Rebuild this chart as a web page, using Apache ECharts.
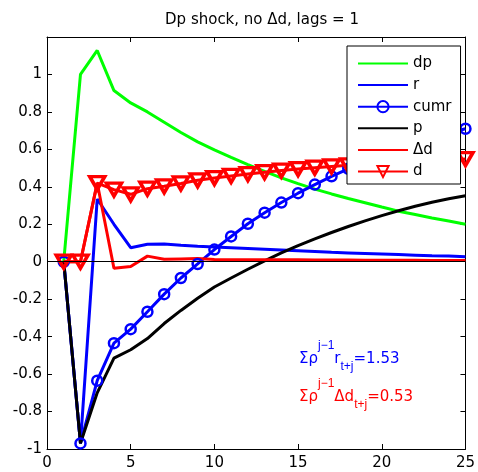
<!DOCTYPE html>
<html>
<head>
<meta charset="utf-8">
<script src="https://cdn.jsdelivr.net/npm/echarts@6/dist/echarts.min.js"></script>
<style>
  html, body { margin: 0; padding: 0; background: #fff; }
  #chart { width: 478px; height: 472px; }
</style>
</head>
<body>
<div id="chart"></div>
<script>
// horizon j = 1..25
var steps = [1, 2, 3, 4, 5, 6, 7, 8, 9, 10, 11, 12, 13, 14, 15, 16, 17, 18, 19, 20, 21, 22, 23, 24, 25];
var dp = [0, 1.0, 1.128, 0.914, 0.848, 0.80, 0.745, 0.69, 0.64, 0.597, 0.557, 0.518, 0.482, 0.448, 0.417, 0.388, 0.362, 0.338, 0.315, 0.292, 0.27, 0.252, 0.234, 0.217, 0.20];
var r = [0, -0.97, 0.335, 0.2, 0.075, 0.093, 0.095, 0.088, 0.082, 0.078, 0.074, 0.07, 0.066, 0.062, 0.058, 0.054, 0.05, 0.047, 0.044, 0.041, 0.038, 0.035, 0.032, 0.03, 0.027];
var cumr = [0, -0.97, -0.635, -0.435, -0.36, -0.267, -0.173, -0.087, -0.012, 0.065, 0.135, 0.203, 0.262, 0.316, 0.366, 0.412, 0.456, 0.496, 0.534, 0.569, 0.601, 0.631, 0.66, 0.686, 0.71];
var p = [0, -0.97, -0.70, -0.515, -0.47, -0.41, -0.33, -0.26, -0.195, -0.135, -0.087, -0.04, 0.005, 0.047, 0.086, 0.122, 0.156, 0.188, 0.218, 0.246, 0.272, 0.296, 0.318, 0.336, 0.352];
var dd = [0, 0, 0.42, -0.035, -0.025, 0.03, 0.013, 0.015, 0.017, 0.012, 0.011, 0.011, 0.01, 0.01, 0.01, 0.009, 0.009, 0.009, 0.008, 0.008, 0.008, 0.008, 0.007, 0.007, 0.007];
var d = [0, 0, 0.42, 0.385, 0.36, 0.39, 0.403, 0.418, 0.435, 0.447, 0.458, 0.468, 0.478, 0.487, 0.495, 0.502, 0.509, 0.515, 0.521, 0.526, 0.531, 0.536, 0.540, 0.544, 0.548];

var xTicks = { min: 0, max: 25, interval: 5 };
var yTicks = { min: -1, max: 1.2, interval: 0.2 };

var font = "'DejaVu Sans', sans-serif";
var smallFont = "'Liberation Sans', Arial, sans-serif";

function pairs(ys) {
  return steps.map(function (x, i) { return [x, ys[i]]; });
}

var chart = echarts.init(document.getElementById("chart"));

var axisCommon = {
  axisLine: { show: true, onZero: false, lineStyle: { color: "#000", width: 1 } },
  axisTick: { show: true, inside: true, length: 5, lineStyle: { color: "#000" } },
  splitLine: { show: false },
};

// plain line series: hide the dot echarts puts on the legend icon
function plainLine(name, ys, color) {
  return {
    name: name, type: "line", data: pairs(ys), symbol: "none",
    color: color, lineStyle: { color: color, width: 3 },
    itemStyle: { opacity: 0 },
  };
}

// Σρ^{j-1} x_{t+j} = value
function sumText(top, label, value, color) {
  return {
    type: "text", left: 299, top: top, silent: true,
    style: {
      text: "{b|Σρ}{sup|j−1}{b|" + label + "}{sub|t+j}{b|=" + value + "}",
      fill: color,
      rich: {
        b: { fontFamily: font, fontSize: 15, lineHeight: 39, fill: color },
        sup: { fontFamily: smallFont, fontSize: 12, verticalAlign: "top", fill: color },
        sub: { fontFamily: smallFont, fontSize: 12, verticalAlign: "bottom", padding: [0, 0, 6, 0], fill: color },
      },
    },
  };
}

var zero = plainLine("dp", dp, "#00ff00");
zero.markLine = {
  silent: true, symbol: "none", label: { show: false },
  lineStyle: { color: "#000", width: 1, type: "solid" },
  data: [{ yAxis: 0 }],
};

chart.setOption({
  animation: false,
  backgroundColor: "#fff",
  title: {
    text: "Dp shock, no Δd, lags = 1",
    left: 257,
    textAlign: "center",
    top: 8,
    textStyle: { fontFamily: font, fontSize: 15, fontWeight: "normal", color: "#000" },
  },
  grid: { left: 47, right: 11, top: 37, bottom: 23 },
  legend: {
    orient: "vertical",
    left: 347,
    top: 46,
    padding: [10, 9, 5, 10],
    itemWidth: 50,
    itemHeight: 14,
    itemGap: 6.6,
    backgroundColor: "#fff",
    borderColor: "#000",
    borderWidth: 1,
    textStyle: { fontFamily: font, fontSize: 15, color: "#000" },
    data: ["dp", "r", "cumr", "p", "Δd", "d"],
  },
  xAxis: [
    Object.assign({
      type: "value", min: xTicks.min, max: xTicks.max, interval: xTicks.interval,
      axisLabel: { color: "#000", fontFamily: font, fontSize: 15, margin: 7 },
    }, axisCommon),
    Object.assign({
      type: "value", position: "top", min: xTicks.min, max: xTicks.max, interval: xTicks.interval,
      axisLabel: { show: false },
    }, axisCommon),
  ],
  yAxis: [
    Object.assign({
      type: "value", min: yTicks.min, max: yTicks.max, interval: yTicks.interval,
      axisLabel: {
        color: "#000", fontFamily: font, fontSize: 15, margin: 5,
        formatter: function (v) {
          if (Math.abs(v - 1.2) < 1e-6) return "";
          return String(Math.round(v * 10) / 10);
        },
      },
    }, axisCommon),
    Object.assign({
      type: "value", position: "right", min: yTicks.min, max: yTicks.max, interval: yTicks.interval,
      axisLabel: { show: false },
    }, axisCommon),
  ],
  series: [
    zero,
    plainLine("r", r, "#0000ff"),
    {
      name: "cumr", type: "line", data: pairs(cumr), symbol: "circle", symbolSize: 10,
      color: "#0000ff", lineStyle: { color: "#0000ff", width: 3 },
      itemStyle: { color: "rgba(255,255,255,0)", borderColor: "#0000ff", borderWidth: 2.5 },
    },
    plainLine("p", p, "#000000"),
    plainLine("Δd", dd, "#ff0000"),
    {
      name: "d", type: "line", data: pairs(d), symbol: "triangle", symbolRotate: 180, symbolSize: [15, 13],
      color: "#ff0000", lineStyle: { color: "#ff0000", width: 3 },
      itemStyle: { color: "rgba(255,255,255,0)", borderColor: "#ff0000", borderWidth: 3.5 },
    },
  ],
  graphic: [
    sumText(339.5, "r", "1.53", "#0000ff"),
    sumText(377.5, "Δd", "0.53", "#ff0000"),
  ],
});
</script>
</body>
</html>
